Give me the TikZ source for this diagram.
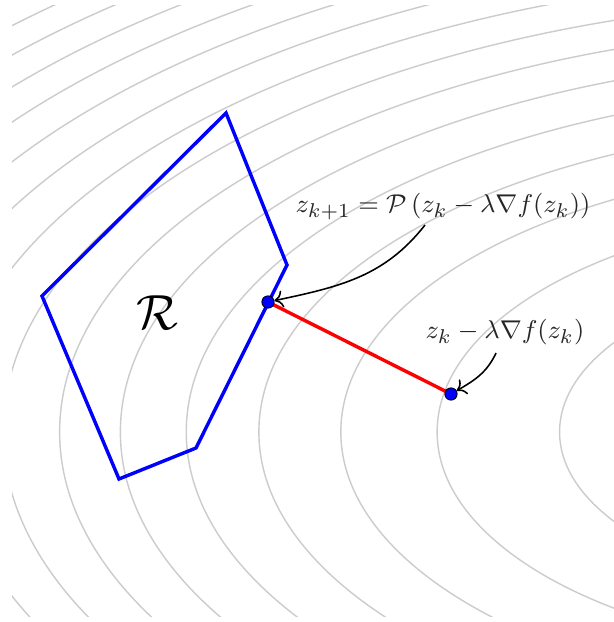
\documentclass[tikz,border=0pt]{standalone}
\usetikzlibrary{arrows.meta}
\begin{document}
\begin{tikzpicture}[x=0.35pt,y=0.35pt,
  contour/.style={draw=black!20, line width=0.5pt},
  region/.style={draw=blue, line width=1.2pt, line join=miter},
  proj/.style={draw=red, line width=1.2pt},
  dot/.style={circle, fill=blue, draw=black, line width=0.3pt, inner sep=0pt, minimum size=4.3pt},
  lbl/.style={inner sep=1pt, text=black!85, font=\fontsize{9.4}{11}\selectfont},
  callout/.style={draw=black, line width=0.55pt, -{To[length=3pt,width=6pt]}}]
\useasboundingbox (0,0) rectangle (614,622);
\begin{scope}
  \clip (12,5) rectangle (620,616);
  \foreach \k in {1,...,16}{
    \pgfmathsetmacro\rx{35*sqrt(9.8389*(\k+0.178))}
    \pgfmathsetmacro\ry{0.484*\rx}
    \draw[contour] (900,190) ellipse [x radius=\rx pt, y radius=\ry pt];
  }
\end{scope}
\draw[region] (226,509) -- (287,357) -- (196,174) -- (119,143) -- (42,326) -- cycle;
\node[inner sep=1pt] (R) at (157,309) {\fontsize{18}{20}\selectfont$\mathcal{R}$};
\coordinate (pzk1) at (268,320);
\coordinate (pzk) at (451,228);
\draw[proj] (pzk1) -- (pzk);
\node[dot] (zk1) at (pzk1) {};
\node[dot] (zk) at (pzk) {};
\node[lbl] (lab1) at (443,415) {$z_{k+1} = \mathcal{P}\left(z_k - \lambda \nabla f(z_k)\right)$};
\node[lbl] (lab2) at (505,290) {$z_k - \lambda \nabla f(z_k)$};
\coordinate (c1) at (425,397);
\coordinate (c2) at (496,269);
\draw[callout] (c1) to[out=-128, in=12] (zk1);
\draw[callout] (c2) to[out=-115, in=30] (zk);
\end{tikzpicture}
\end{document}
